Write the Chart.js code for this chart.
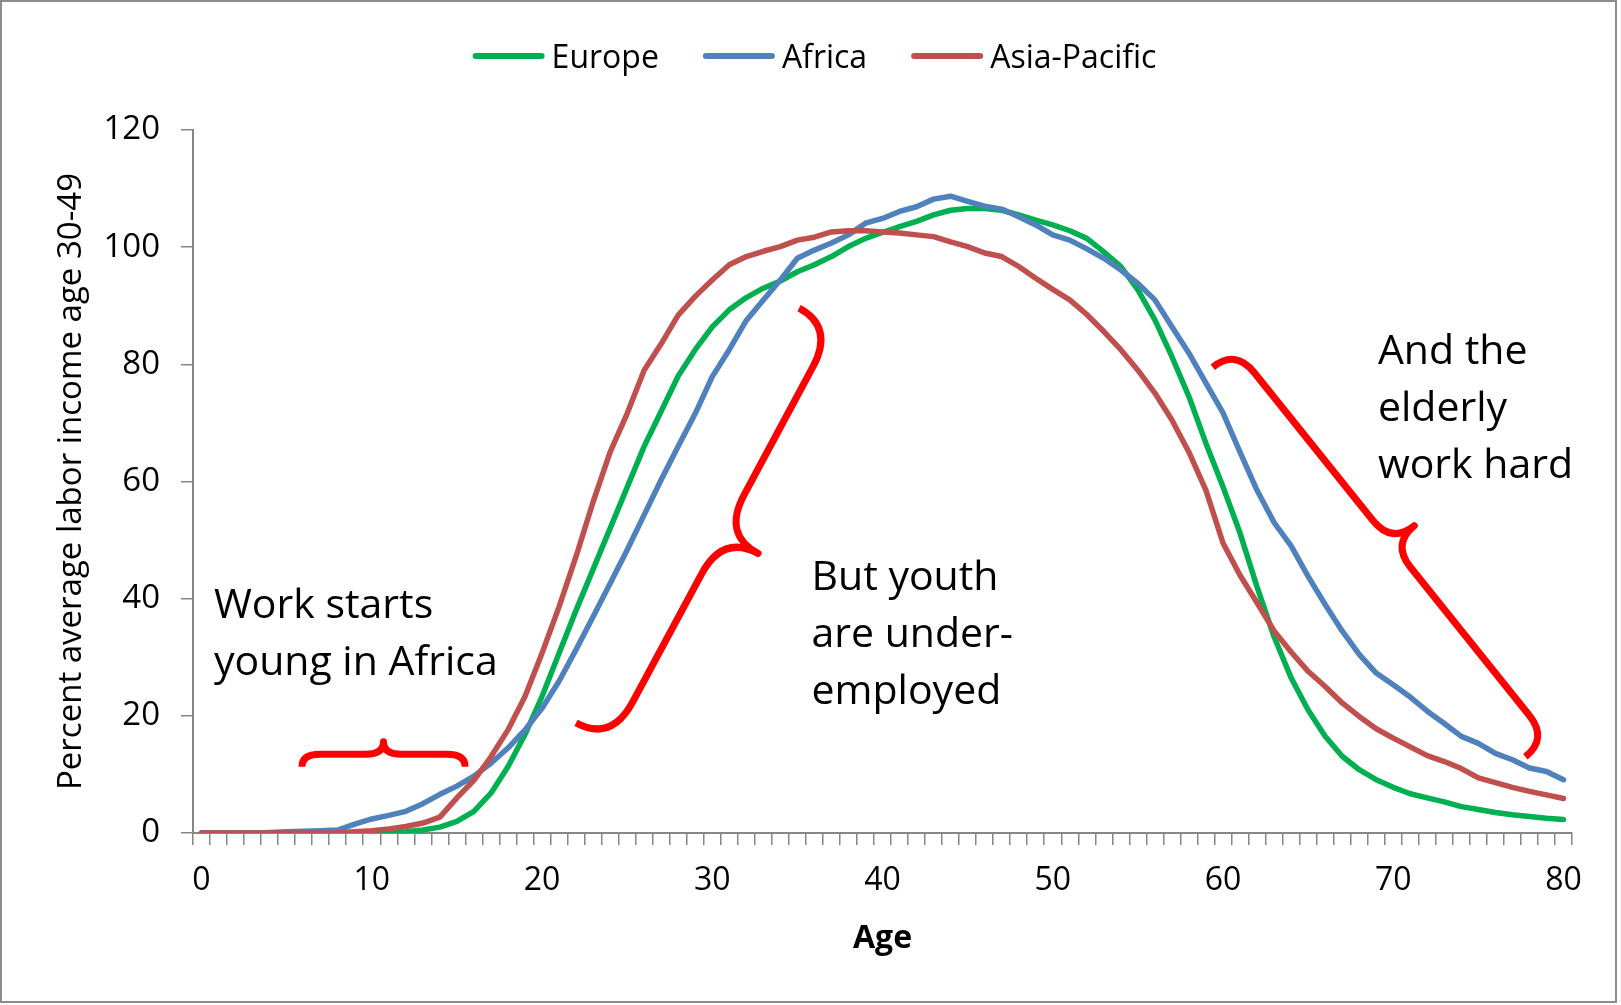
<!DOCTYPE html>
<html>
<head>
<meta charset="utf-8">
<script src="https://cdn.jsdelivr.net/npm/chart.js@4.4.1/dist/chart.umd.min.js"></script>
<style>
  html, body { margin: 0; padding: 0; background: #fff; }
  #wrap { position: relative; width: 1621px; height: 1005px; }
</style>
</head>
<body>
<div id="wrap"><canvas id="chart" width="1621" height="1005"></canvas></div>
<script>
// ages 0..80 (category axis)
const ages = [0,1,2,3,4,5,6,7,8,9,10,11,12,13,14,15,16,17,18,19,20,
  21,22,23,24,25,26,27,28,29,30,31,32,33,34,35,36,37,38,39,40,
  41,42,43,44,45,46,47,48,49,50,51,52,53,54,55,56,57,58,59,60,
  61,62,63,64,65,66,67,68,69,70,71,72,73,74,75,76,77,78,79,80]

const europe = [0,0,0,0,0,0,0,0,0,0,0,
  0.1,0.2,0.5,1.0,2.0,3.7,6.8,11.3,16.8,23.3,
  30.7,38,45,52,59,66,72,78,82.5,86.4,
  89.3,91.4,93,94.2,95.8,97,98.4,100.1,101.5,102.5,
  103.5,104.4,105.5,106.3,106.6,106.6,106.3,105.5,104.6,103.8,
  102.8,101.5,99.2,96.7,92.7,87.6,81.3,74.5,66.5,59.1,
  51.2,42,33.5,26.5,21,16.5,13.1,10.8,9.1,7.8,
  6.7,6,5.3,4.5,4,3.5,3.1,2.8,2.5,2.3]

const africa = [0,0,0,0,0.1,0.2,0.3,0.4,0.5,1.5,2.4,
  3.0,3.7,5.0,6.6,8.0,9.7,11.9,14.5,17.6,21.3,
  25.9,31.3,36.9,42.6,48.3,54.3,60.3,66,71.6,77.9,
  82.5,87.5,91,94.4,98.1,99.5,100.7,102.1,104.1,104.9,
  106.1,106.9,108.2,108.7,107.8,107,106.5,105.2,103.8,102.1,
  101.2,99.7,98.1,96.1,93.8,91,86.4,81.9,76.8,71.7,
  65,58.5,53,49,43.8,39,34.5,30.5,27.3,25.3,
  23.2,20.8,18.7,16.5,15.3,13.6,12.5,11.1,10.5,9.1]

const asiaPacific = [0,0,0,0,0,0,0,0,0,0.2,0.4,
  0.7,1.1,1.7,2.7,6,9,13,17.6,23.3,30.7,
  38.6,47.2,56.5,65,71.6,79,83.5,88.4,91.6,94.4,
  97,98.4,99.3,100.1,101.2,101.7,102.6,102.8,102.8,102.6,
  102.4,102.1,101.8,100.9,100.1,99,98.4,96.7,94.7,92.8,
  91,88.5,85.6,82.5,79,75.1,70.5,65,58.5,49.5,
  44,39.3,34.5,30.9,27.6,25,22.2,19.9,17.8,16.2,
  14.7,13.2,12.2,11,9.4,8.6,7.8,7.1,6.5,5.9]

const seriesNames = ['Europe', 'Africa', 'Asia-Pacific']
const seriesColors = ['#00B050', '#4F81BD', '#C0504D']
const yTicks = [0, 20, 40, 60, 80, 100, 120]
const xLabelEvery = 10

// annotation text, anchored at (age, value) of the first line's left baseline
const notes = [
  { lines: ['Work starts', 'young in Africa'], age: 0.73, value: 36.7 },
  { lines: ['But youth', 'are under-', 'employed'], age: 35.83, value: 41.5 },
  { lines: ['And the', 'elderly', 'work hard'], age: 69.1, value: 80.1 }
]

// curly braces between two (age, value) ends
const braces = [
  { from: [5.9, 11.3], to: [15.48, 11.3], depth: 12.5, corner: 18 },
  { from: [35.1, 89.6], to: [22.0, 18.8], depth: 40, corner: 45 },
  { from: [59.4, 79.5], to: [77.76, 13.0], depth: 29, corner: 30 }
]

const FONT = '"Open Sans", "DejaVu Sans", sans-serif'
const AXIS_GRAY = '#868686'

function drawBrace(ctx, x1, y1, x2, y2, depth, corner) {
  const dx = x2 - x1, dy = y2 - y1
  const len = Math.hypot(dx, dy)
  const ux = dx / len, uy = dy / len
  const nx = uy, ny = -ux
  const P = (s, n) => [x1 + ux * s + nx * n, y1 + uy * s + ny * n]
  const h = len / 2
  ctx.beginPath()
  ctx.moveTo(...P(0, 0))
  ctx.quadraticCurveTo(...P(0, depth), ...P(corner, depth))
  ctx.lineTo(...P(h - corner, depth))
  ctx.quadraticCurveTo(...P(h, depth), ...P(h, 2 * depth))
  ctx.quadraticCurveTo(...P(h, depth), ...P(h + corner, depth))
  ctx.lineTo(...P(len - corner, depth))
  ctx.quadraticCurveTo(...P(len, depth), ...P(len, 0))
  ctx.stroke()
}

const framePlugin = {
  id: 'frame',
  beforeDraw(chart) {
    const ctx = chart.ctx
    ctx.save()
    ctx.fillStyle = '#fff'
    ctx.fillRect(0, 0, chart.width, chart.height)
    ctx.restore()
  },
  afterDraw(chart) {
    const ctx = chart.ctx
    ctx.save()
    ctx.strokeStyle = '#8c8c8c'
    ctx.lineWidth = 2
    ctx.strokeRect(1, 1, chart.width - 6, chart.height - 4)
    ctx.restore()
  }
}

const legendPlugin = {
  id: 'lineLegend',
  afterDraw(chart) {
    const ctx = chart.ctx
    ctx.save()
    ctx.font = '32px ' + FONT
    const sample = 72, gap = 7, itemGap = 44
    const items = chart.data.datasets.map(d => ({
      label: d.label, color: d.borderColor, w: ctx.measureText(d.label).width
    }))
    const total = items.reduce((s, it) => s + sample + gap + it.w, 0) + itemGap * (items.length - 1)
    let x = chart.width / 2 + 4 - total / 2
    items.forEach(it => {
      ctx.strokeStyle = it.color
      ctx.lineWidth = 6
      ctx.lineCap = 'round'
      ctx.beginPath()
      ctx.moveTo(x + 3, 56)
      ctx.lineTo(x + sample - 3, 56)
      ctx.stroke()
      ctx.fillStyle = '#000'
      ctx.textBaseline = 'alphabetic'
      ctx.fillText(it.label, x + sample + gap, 68)
      x += sample + gap + it.w + itemGap
    })
    ctx.restore()
  }
}

const notesPlugin = {
  id: 'notes',
  afterDatasetsDraw(chart) {
    const { ctx, scales: { x, y } } = chart
    ctx.save()
    ctx.strokeStyle = '#FF0000'
    ctx.lineWidth = 7
    ctx.lineJoin = 'round'
    braces.forEach(b => {
      drawBrace(ctx,
        x.getPixelForValue(b.from[0]), y.getPixelForValue(b.from[1]),
        x.getPixelForValue(b.to[0]), y.getPixelForValue(b.to[1]),
        b.depth, b.corner)
    })
    ctx.fillStyle = '#000'
    ctx.font = '41px ' + FONT
    ctx.textBaseline = 'alphabetic'
    ctx.textAlign = 'left'
    notes.forEach(n => {
      const px = x.getPixelForValue(n.age)
      const py = y.getPixelForValue(n.value)
      n.lines.forEach((line, i) => ctx.fillText(line, px, py + i * 57))
    })
    ctx.restore()
  }
}

const seriesData = [europe, africa, asiaPacific]

new Chart(document.getElementById('chart'), {
  type: 'line',
  data: {
    labels: ages,
    datasets: seriesData.map((vals, i) => ({
      label: seriesNames[i],
      data: vals,
      borderColor: seriesColors[i],
      backgroundColor: seriesColors[i],
      borderWidth: 5.5,
      pointRadius: 0,
      tension: 0,
      borderJoinStyle: 'round',
      borderCapStyle: 'round',
      order: 2 - i
    }))
  },
  options: {
    responsive: false,
    animation: false,
    devicePixelRatio: 1,
    layout: { padding: { top: 130, right: 49, bottom: 0, left: 0 } },
    plugins: {
      legend: { display: false },
      tooltip: { enabled: false }
    },
    scales: {
      x: {
        type: 'category',
        offset: true,
        afterFit(s) { s.height = 172 },
        grid: { offset: true, drawOnChartArea: false, drawTicks: true, tickLength: 12, color: AXIS_GRAY, lineWidth: 1.5 },
        border: { display: true, color: AXIS_GRAY, width: 2 },
        ticks: {
          autoSkip: false,
          maxRotation: 0,
          padding: 17,
          color: '#000',
          font: { family: FONT, size: 32 },
          callback(v, i) { return ages[i] % xLabelEvery === 0 ? String(ages[i]) : '' }
        },
        title: {
          display: true,
          text: 'Age',
          color: '#000',
          font: { family: FONT, size: 32, weight: 'bold' },
          padding: { top: 0, bottom: 47 }
        }
      },
      y: {
        min: 0,
        max: 120,
        afterFit(s) { s.width = 193 },
        afterBuildTicks(s) { s.ticks = yTicks.map(v => ({ value: v })) },
        grid: { drawOnChartArea: false, drawTicks: true, tickLength: 12, color: AXIS_GRAY, lineWidth: 1.5 },
        border: { display: true, color: AXIS_GRAY, width: 2 },
        ticks: {
          padding: 21,
          color: '#000',
          font: { family: FONT, size: 33 }
        },
        title: {
          display: true,
          text: 'Percent average labor income age 30-49',
          color: '#000',
          font: { family: FONT, size: 33 },
          padding: { top: 52, bottom: 0 }
        }
      }
    }
  },
  plugins: [framePlugin, legendPlugin, notesPlugin]
})
</script>
</body>
</html>
